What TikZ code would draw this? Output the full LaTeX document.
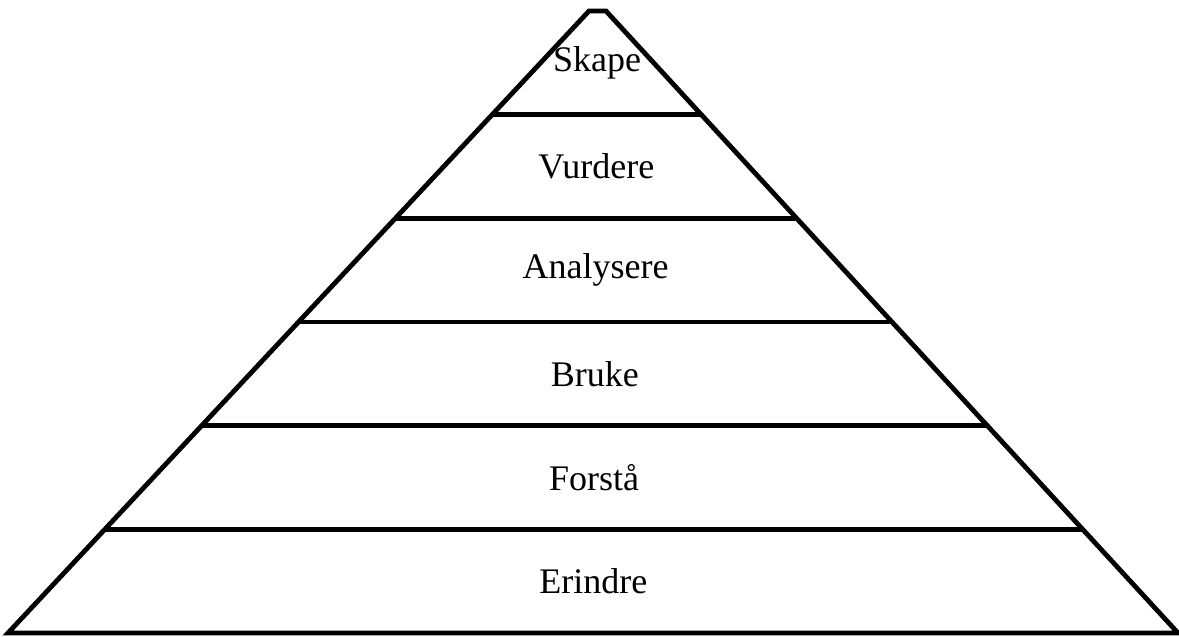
\documentclass[tikz,border=0pt]{standalone}
\usepackage{fontspec}
\setmainfont{Liberation Serif}
\usetikzlibrary{calc}

\begin{document}
\begin{tikzpicture}[
    x=1pt, y=-1pt,
    edge/.style={draw, line width=4.8pt},
    level/.style={font=\fontsize{36}{42}\selectfont, inner sep=0pt}
]
\useasboundingbox (0,0) rectangle (1179,637);
% corners of the pyramid
\coordinate (bl) at (8,633);
\coordinate (br) at (1178,633);
\coordinate (tl) at (589,11);
\coordinate (tr) at (606,11);
\draw[edge] (bl) -- (tl) -- (tr) -- (br) -- cycle;
% layer borders
\foreach \k in {1,...,5} {
    \draw[edge] ($(bl)!\k/6!(tl)$) -- ($(br)!\k/6!(tr)$);
}
% layer names
\foreach \k/\name/\txt in {0/erindre/Erindre, 1/forsta/Forstå, 2/bruke/Bruke,
                           3/analysere/Analysere, 4/vurdere/Vurdere, 5/skape/Skape} {
    \node[level] (\name) at ($(bl)!0.5!(br)!{(\k+0.5)/6}!($(tl)!0.5!(tr)$)$) {\txt};
}
\end{tikzpicture}
\end{document}
